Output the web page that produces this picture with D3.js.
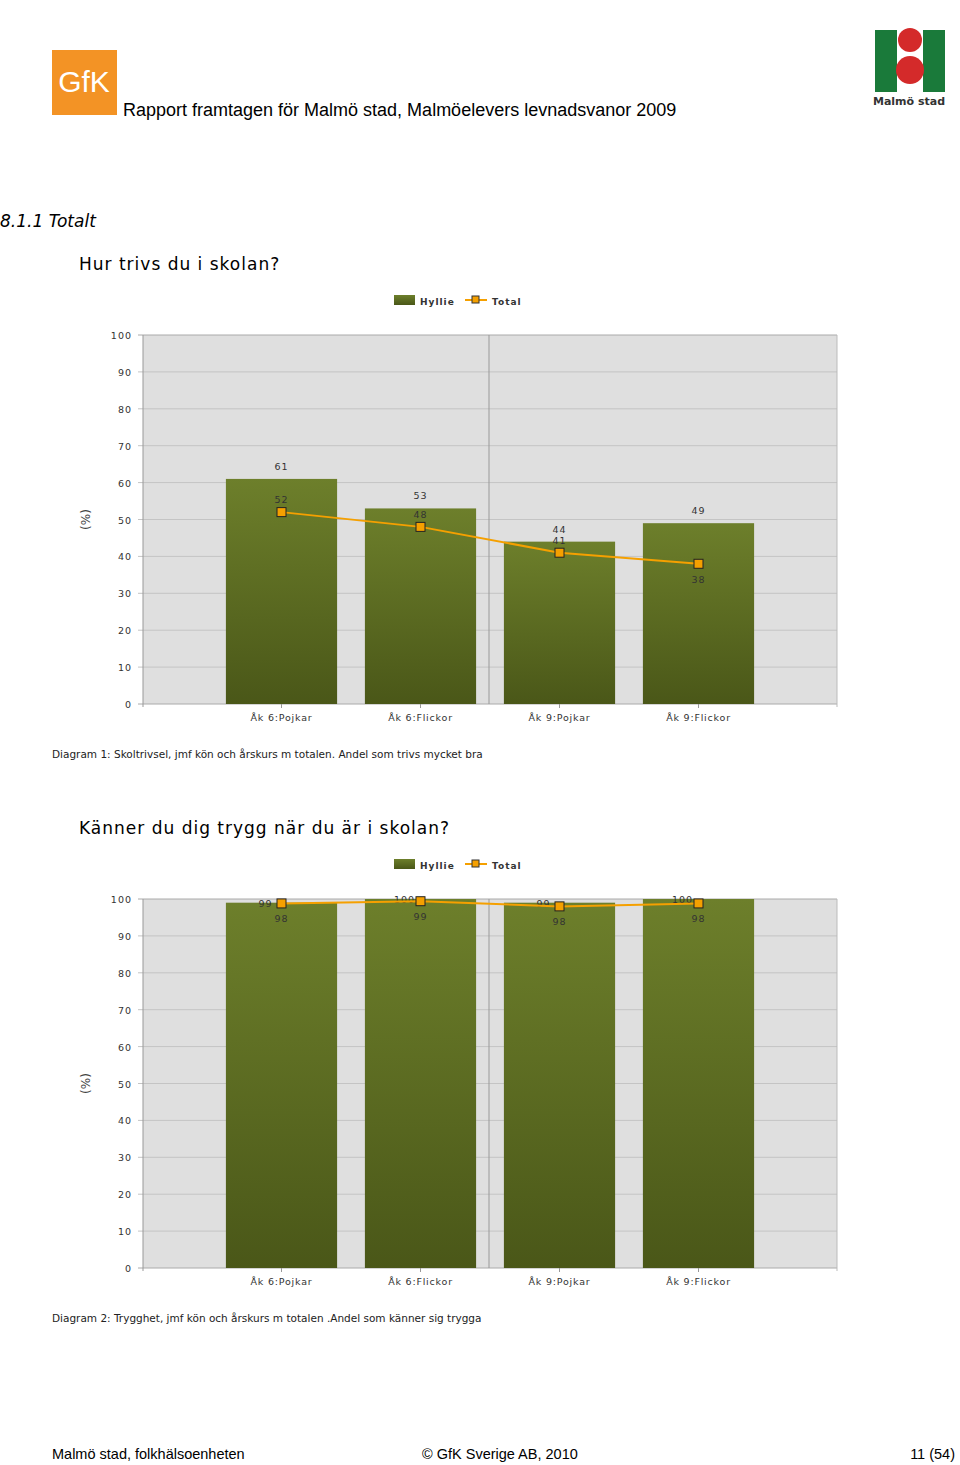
<!DOCTYPE html>
<html><head><meta charset="utf-8">
<script src="https://cdn.jsdelivr.net/npm/d3@7"></script>
<style>body{margin:0;background:#fff;}svg{display:block;font-family:"DejaVu Sans",sans-serif;}</style>
</head><body>
<svg id="c" width="960" height="1465"></svg>
<script>
const categories = ["Åk 6:Pojkar","Åk 6:Flickor","Åk 9:Pojkar","Åk 9:Flickor"];
const yTicks = [0,10,20,30,40,50,60,70,80,90,100];
const hyllie1 = [61,53,44,49];
const total1 = [52,48,41,38];
const hyllie2 = [99,100,99,100];
const total2 = [98.8,99.4,98.0,98.8];

const svg = d3.select("#c");
const defs = svg.append("defs");
const g = defs.append("linearGradient").attr("id","bg").attr("x1",0).attr("y1",0).attr("x2",0).attr("y2",1);
g.append("stop").attr("offset","0%").attr("stop-color","#6d7f2b");
g.append("stop").attr("offset","100%").attr("stop-color","#4a5718");

// header
svg.append("rect").attr("x",52).attr("y",50).attr("width",65).attr("height",65).attr("fill","#f39325");
svg.append("text").attr("x",84).attr("y",92).attr("text-anchor","middle").attr("fill","#fff").attr("font-size",30).attr("font-family","Arial, Liberation Sans").text("GfK");
svg.append("text").attr("x",123).attr("y",116).attr("font-size",18).attr("font-family","Liberation Sans, Arial").attr("fill","#000").text("Rapport framtagen för Malmö stad, Malmöelevers levnadsvanor 2009");
const lg = svg.append("g");
lg.append("rect").attr("x",875).attr("y",30).attr("width",70).attr("height",62).attr("fill","#1a7a3a");
lg.append("rect").attr("x",897).attr("y",30).attr("width",26).attr("height",62).attr("fill","#fff");
lg.append("circle").attr("cx",910).attr("cy",40).attr("r",12).attr("fill","#d42a2a");
lg.append("circle").attr("cx",910).attr("cy",70).attr("r",14).attr("fill","#d42a2a");
lg.append("text").attr("x",909).attr("y",105).attr("text-anchor","middle").attr("font-size",11).attr("font-weight","bold").attr("fill","#333").text("Malmö stad");

svg.append("text").attr("x",0).attr("y",227).attr("font-size",17).attr("font-style","italic").text("8.1.1  Totalt");

function chart(top, title, caption, hy, tot, totBelow, hyLeft){
  const y = d3.scaleLinear().domain([0,100]).range([top+370, top+1]);
  const x = d3.scaleBand().domain(categories).range([212,768]).paddingInner(0.2).paddingOuter(0.1);
  const L=143,R=837;
  svg.append("text").attr("x",79).attr("y",top-64).attr("font-size",17).attr("letter-spacing",1).text(title);
  svg.append("rect").attr("x",394).attr("y",top-39).attr("width",21).attr("height",10).attr("fill","url(#bg)");
  svg.append("text").attr("x",420).attr("y",top-29).attr("font-size",9).attr("font-weight","bold").attr("letter-spacing",1).attr("fill","#333").text("Hyllie");
  svg.append("line").attr("x1",465).attr("x2",487).attr("y1",top-34).attr("y2",top-34).attr("stroke","#f5a000").attr("stroke-width",2);
  svg.append("rect").attr("x",472).attr("y",top-38).attr("width",7).attr("height",7).attr("fill","#f5a000").attr("stroke","#333");
  svg.append("text").attr("x",492).attr("y",top-29).attr("font-size",9).attr("font-weight","bold").attr("letter-spacing",1).attr("fill","#333").text("Total");
  svg.append("rect").attr("x",L).attr("y",y(100)).attr("width",R-L).attr("height",y(0)-y(100)).attr("fill","#dfdfdf");
  yTicks.forEach(t=>{
    svg.append("line").attr("x1",L-5).attr("x2",R).attr("y1",y(t)).attr("y2",y(t)).attr("stroke",t==100||t==0?"#aaa":"#c4c4c4");
    svg.append("text").attr("x",132).attr("y",y(t)+4).attr("text-anchor","end").attr("font-size",9.5).attr("letter-spacing",1).attr("fill","#333").text(t);
  });
  svg.append("line").attr("x1",L).attr("x2",L).attr("y1",y(100)).attr("y2",y(0)+3).attr("stroke","#999");
  svg.append("line").attr("x1",R).attr("x2",R).attr("y1",y(100)).attr("y2",y(0)+3).attr("stroke","#bbb");
  svg.append("line").attr("x1",489).attr("x2",489).attr("y1",y(100)).attr("y2",y(0)).attr("stroke","#999");
  svg.append("text").attr("transform",`translate(90,${y(50)}) rotate(-90)`).attr("text-anchor","middle").attr("font-size",12).attr("fill","#444").text("(%)");
  svg.selectAll(null).data(hy).enter().append("rect").attr("x",(d,i)=>x(categories[i])).attr("width",x.bandwidth())
    .attr("y",d=>y(d)).attr("height",d=>y(0)-y(d)).attr("fill","url(#bg)");
  svg.selectAll(null).data(hy).enter().append("text").attr("x",(d,i)=>x(categories[i])+x.bandwidth()/2+(hyLeft?-16:0))
    .attr("y",d=>y(d)-(hyLeft?-4:9)).attr("text-anchor","middle").attr("font-size",9.5).attr("letter-spacing",1).attr("fill","#333").text(d=>Math.round(d));
  const cx=(i)=>x(categories[i])+x.bandwidth()/2;
  svg.append("path").datum(tot).attr("d",d3.line().x((d,i)=>cx(i)).y(d=>y(d))).attr("fill","none").attr("stroke","#f5a000").attr("stroke-width",2);
  svg.selectAll(null).data(tot).enter().append("rect").attr("x",(d,i)=>cx(i)-4.5).attr("y",d=>y(d)-4.5).attr("width",9).attr("height",9).attr("fill","#f5a000").attr("stroke","#222");
  svg.selectAll(null).data(tot).enter().append("text").attr("x",(d,i)=>cx(i))
    .attr("y",(d,i)=>totBelow[i]?y(d)+19:y(d)-9).attr("text-anchor","middle").attr("font-size",9.5).attr("letter-spacing",1).attr("fill","#333").text(d=>Math.floor(d));
  categories.forEach(c=>{
    svg.append("line").attr("x1",x(c)+x.bandwidth()/2).attr("x2",x(c)+x.bandwidth()/2).attr("y1",y(0)).attr("y2",y(0)+4).attr("stroke","#999");
    svg.append("text").attr("x",x(c)+x.bandwidth()/2).attr("y",y(0)+17).attr("text-anchor","middle").attr("font-size",9.5).attr("letter-spacing",0.8).attr("fill","#333").text(c);
  });
  svg.append("text").attr("x",52).attr("y",y(0)+54).attr("font-size",10.5).attr("fill","#222").text(caption);
}
chart(334,"Hur trivs du i skolan?","Diagram 1: Skoltrivsel, jmf kön och årskurs m totalen. Andel som trivs mycket bra",hyllie1,total1,[false,false,false,true],false);
chart(898,"Känner du dig trygg när du är i skolan?","Diagram 2: Trygghet, jmf kön och årskurs m totalen .Andel som känner sig trygga",hyllie2,total2,[true,true,true,true],true);

svg.append("text").attr("x",52).attr("y",1459).attr("font-size",14.5).attr("font-family","Liberation Sans, Arial").text("Malmö stad, folkhälsoenheten");
svg.append("text").attr("x",422).attr("y",1459).attr("font-size",14.5).attr("font-family","Liberation Sans, Arial").text("© GfK Sverige AB, 2010");
svg.append("text").attr("x",955).attr("y",1459).attr("text-anchor","end").attr("font-size",14.5).attr("font-family","Liberation Sans, Arial").text("11 (54)");
</script>
</body></html>
